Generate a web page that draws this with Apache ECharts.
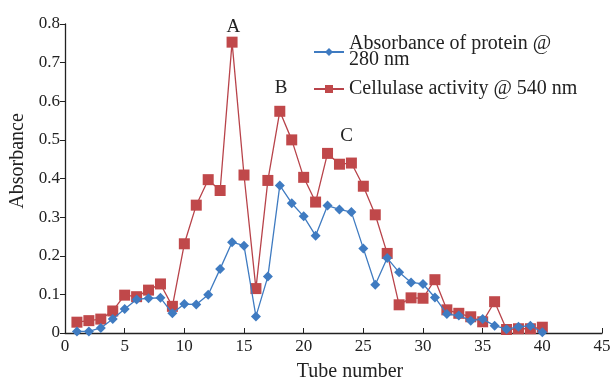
<!DOCTYPE html>
<html><head><meta charset="utf-8">
<script src="https://cdn.jsdelivr.net/npm/echarts@6/dist/echarts.min.js"></script>
<style>html,body{margin:0;padding:0;background:#fff}#c{width:614px;height:382px}</style>
</head><body><div id="c"></div>
<script>
const tubes = [1,2,3,4,5,6,7,8,9,10,11,12,13,14,15,16,17,18,19,20,21,22,23,24,25,26,27,28,29,30,31,32,33,34,35,36,37,38,39,40];
const protein = [0.004,0.004,0.013,0.036,0.062,0.087,0.09,0.091,0.051,0.075,0.074,0.099,0.166,0.235,0.226,0.043,0.146,0.382,0.336,0.302,0.252,0.33,0.32,0.313,0.219,0.125,0.194,0.157,0.131,0.127,0.092,0.049,0.045,0.032,0.036,0.019,0.01,0.016,0.019,0.002];
const cellulase = [0.028,0.032,0.036,0.057,0.098,0.094,0.111,0.127,0.069,0.231,0.331,0.397,0.369,0.753,0.409,0.115,0.395,0.574,0.5,0.403,0.339,0.465,0.437,0.44,0.38,0.306,0.206,0.073,0.091,0.09,0.138,0.06,0.051,0.042,0.029,0.081,0.009,0.011,0.011,0.015];
const peakLabels = [{name:'A', coord:[14.1, 0.793]}, {name:'B', coord:[18.1, 0.635]}, {name:'C', coord:[23.6, 0.51]}];
const xTicks = {min:0, max:45, interval:5};
const yTicks = {min:0, max:0.8, interval:0.1};
const xTitle = 'Tube number';
const yTitle = 'Absorbance';

const font = 'Liberation Serif';
const chart = echarts.init(document.getElementById('c'));
chart.setOption({
  animation:false,
  textStyle:{fontFamily:font},
  grid:{left:65, top:24, width:537, height:309},
  legend:{
    orient:'vertical', left:308, top:29, itemWidth:30, itemHeight:10, itemGap:9,
    textStyle:{fontFamily:font, fontSize:20, color:'#222', lineHeight:16},
    data:[
      {name:'Absorbance of protein @\n280 nm'},
      {name:'Cellulase activity @ 540 nm'}
    ]
  },
  graphic:[
    {type:'text', x:350, y:372, style:{text:xTitle, font:'20px "Liberation Serif"', fill:'#222', textAlign:'center', textVerticalAlign:'middle'}},
    {type:'text', x:18, y:161, rotation:Math.PI/2, style:{text:yTitle, font:'20px "Liberation Serif"', fill:'#222', textAlign:'center', textVerticalAlign:'middle'}}
  ],
  xAxis:{
    type:'value', min:xTicks.min, max:xTicks.max, interval:xTicks.interval,
    axisLine:{lineStyle:{color:'#222', width:1.3}},
    axisTick:{inside:true, length:5, lineStyle:{color:'#222'}},
    axisLabel:{fontFamily:font, fontSize:17, color:'#222', margin:5},
    splitLine:{show:false}
  },
  yAxis:{
    type:'value', min:yTicks.min, max:yTicks.max, interval:yTicks.interval,
    axisLine:{show:true, lineStyle:{color:'#222', width:1.3}},
    axisTick:{show:true, length:5, lineStyle:{color:'#222'}},
    axisLabel:{fontFamily:font, fontSize:17, color:'#222', margin:5},
    splitLine:{show:false}
  },
  series:[
    {
      name:'Absorbance of protein @\n280 nm', type:'line',
      data:tubes.map((t,i)=>[t, protein[i]]),
      symbol:'diamond', symbolSize:10,
      itemStyle:{color:'#3f7bc1'}, lineStyle:{color:'#3f7bc1', width:1.3},
      z:3
    },
    {
      name:'Cellulase activity @ 540 nm', type:'line',
      data:tubes.map((t,i)=>[t, cellulase[i]]),
      symbol:'rect', symbolSize:11,
      itemStyle:{color:'#c0484a'}, lineStyle:{color:'#b8434a', width:1.3},
      z:2,
      markPoint:{
        symbol:'circle', symbolSize:1, itemStyle:{color:'rgba(0,0,0,0)'},
        label:{show:true, position:'inside', formatter:'{b}', fontFamily:font, fontSize:19, color:'#222'},
        data:peakLabels
      }
    }
  ]
});
</script></body></html>
